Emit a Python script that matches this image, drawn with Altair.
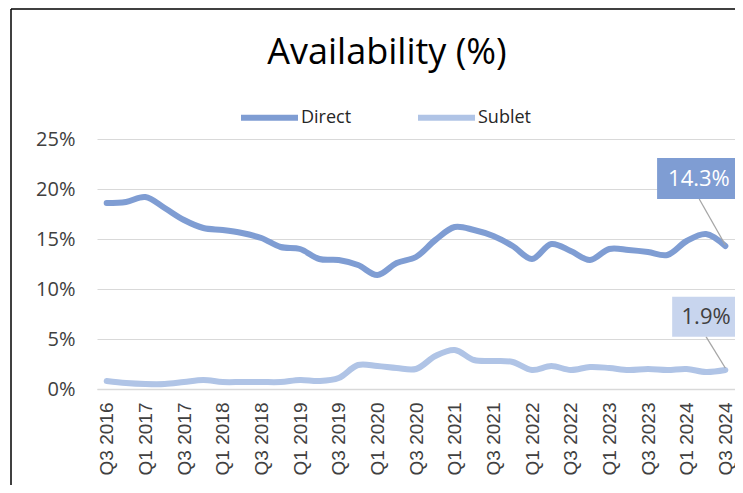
import altair as alt
import pandas as pd

quarters = ["Q3 2016", "Q4 2016", "Q1 2017", "Q2 2017", "Q3 2017", "Q4 2017",
            "Q1 2018", "Q2 2018", "Q3 2018", "Q4 2018", "Q1 2019", "Q2 2019",
            "Q3 2019", "Q4 2019", "Q1 2020", "Q2 2020", "Q3 2020", "Q4 2020",
            "Q1 2021", "Q2 2021", "Q3 2021", "Q4 2021", "Q1 2022", "Q2 2022",
            "Q3 2022", "Q4 2022", "Q1 2023", "Q2 2023", "Q3 2023", "Q4 2023",
            "Q1 2024", "Q2 2024", "Q3 2024"]
direct = [18.6, 18.7, 19.2, 18.1, 16.9, 16.1, 15.9, 15.6, 15.1, 14.2, 14.0, 13.0,
          12.9, 12.4, 11.4, 12.6, 13.2, 14.9, 16.2, 15.9, 15.3, 14.3, 13.0, 14.5,
          13.8, 12.9, 14.0, 13.9, 13.7, 13.4, 14.8, 15.5, 14.3]
sublet = [0.8, 0.6, 0.5, 0.5, 0.7, 0.9, 0.7, 0.7, 0.7, 0.7, 0.9, 0.8,
          1.1, 2.4, 2.3, 2.1, 2.0, 3.3, 3.9, 2.9, 2.8, 2.7, 1.9, 2.3,
          1.9, 2.2, 2.1, 1.9, 2.0, 1.9, 2.0, 1.7, 1.9]
series = ["Direct", "Sublet"]
colors = ["#7F9DD3", "#B0C4E6"]
y_ticks = [0, 5, 10, 15, 20, 25]

# callout annotations (last point labels)
callout_text = ["14.3%", "1.9%"]
callout_fill = ["#7F9DD3", "#C8D5EE"]
callout_color = ["#FFFFFF", "#404040"]
box_x = [28.47, 29.25]
box_x2 = [32.8, 32.76]
box_y = [19.0, 5.23]
box_y2 = [23.1, 9.23]
leader_x = [30.65, 31.0]
leader_y = [19.0, 5.23]
point_x = [32.0, 32.0]
point_y = [14.4, 2.1]

rows = []
for i, q in enumerate(quarters):
    rows.append({"idx": i, "quarter": q, "series": "Direct", "value": direct[i]})
    rows.append({"idx": i, "quarter": q, "series": "Sublet", "value": sublet[i]})
df = pd.DataFrame(rows)

ann = pd.DataFrame({
    "text": callout_text, "fill": callout_fill, "tcolor": callout_color,
    "bx": box_x, "bx2": box_x2, "by": box_y, "by2": box_y2,
    "cx": [(a + b) / 2 for a, b in zip(box_x, box_x2)],
    "cy": [(a + b) / 2 for a, b in zip(box_y, box_y2)],
    "lx": leader_x, "ly": leader_y, "px": point_x, "py": point_y,
})

label_expr = "[" + ",".join("'%s'" % q for q in quarters) + "][datum.value]"

xscale = alt.Scale(domain=[-0.5, len(quarters) - 0.5], nice=False, zero=False)
yscale = alt.Scale(domain=[0, 25], nice=False)

x_axis = alt.Axis(values=list(range(0, len(quarters), 2)), labelExpr=label_expr,
                  labelAngle=270, labelAlign="right", labelBaseline="middle",
                  labelFont="Liberation Sans", labelFontSize=19, labelColor="#404040",
                  labelPadding=13, ticks=False, grid=False, domain=True,
                  domainColor="#D9D9D9", domainWidth=1.5, title=None,
                  labelOverlap=False, labelSeparation=0, labelBound=False, labelFlush=False)
y_axis = alt.Axis(values=y_ticks, labelExpr="datum.value + '%'",
                  labelFont="Open Sans", labelFontSize=20, labelColor="#404040",
                  labelPadding=22, ticks=False, domain=False, grid=True,
                  gridColor="#D9D9D9", gridWidth=1, title=None)

lines = alt.Chart(df).mark_line(
    strokeWidth=6, interpolate="catmull-rom", strokeCap="round", strokeJoin="round"
).encode(
    x=alt.X("idx:Q", scale=xscale, axis=x_axis),
    y=alt.Y("value:Q", scale=yscale, axis=y_axis),
    color=alt.Color("series:N", scale=alt.Scale(domain=series, range=colors),
                    legend=alt.Legend(title=None, orient="none", direction="horizontal",
                                      legendX=141, legendY=-53,
                                      symbolType="stroke", symbolSize=3249,
                                      symbolStrokeWidth=6, labelFont="Open Sans",
                                      labelFontSize=18, labelColor="#262626",
                                      labelOffset=0, columnPadding=54, padding=0)),
    detail="series:N",
)

leaders = alt.Chart(ann).mark_rule(color="#A6A6A6", strokeWidth=1.3).encode(
    x=alt.X("lx:Q", scale=xscale, axis=x_axis), y=alt.Y("ly:Q", scale=yscale, axis=y_axis),
    x2="px:Q", y2="py:Q",
)
boxes = alt.Chart(ann).mark_rect().encode(
    x=alt.X("bx:Q", scale=xscale, axis=x_axis), x2="bx2:Q",
    y=alt.Y("by:Q", scale=yscale, axis=y_axis), y2="by2:Q",
    fill=alt.Fill("fill:N", scale=None),
)
texts = alt.Chart(ann).mark_text(font="Open Sans", fontSize=22, baseline="middle",
                                 align="center").encode(
    x=alt.X("cx:Q", scale=xscale, axis=x_axis), y=alt.Y("cy:Q", scale=yscale, axis=y_axis),
    text="text:N", color=alt.Color("tcolor:N", scale=None),
)

frame_df = pd.DataFrame({"k": [0]})
frame_left = alt.Chart(frame_df).mark_rule(color="#000000", strokeWidth=1.5).encode(
    x=alt.value(-86), y=alt.value(-130), y2=alt.value(400))
frame_top = alt.Chart(frame_df).mark_rule(color="#000000", strokeWidth=1.5).encode(
    x=alt.value(-86), x2=alt.value(700), y=alt.value(-130))

chart = alt.layer(lines, leaders, boxes, texts, frame_left, frame_top).properties(
    width=638, height=250,
    autosize=alt.AutoSizeParams(type="none"),
    padding={"left": 89, "top": 131, "right": 0, "bottom": 96},
    title=alt.Title("Availability (%)", font="Open Sans", fontSize=36,
                    fontWeight="normal", color="#000000", anchor="middle",
                    dx=-29, offset=-64),
).configure_view(stroke=None)

chart.save("out.html", embed_options={"renderer": "svg", "actions": False})
